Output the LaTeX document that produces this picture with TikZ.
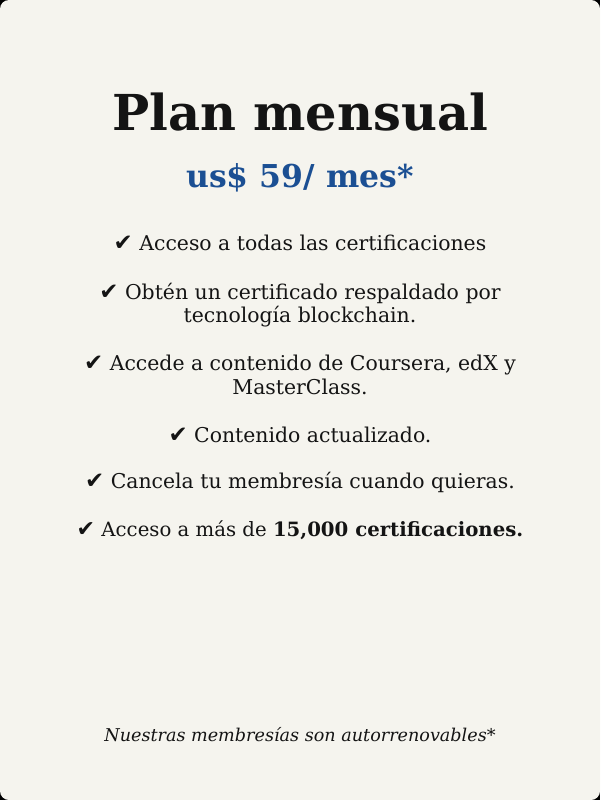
\documentclass[tikz,border=0pt]{standalone}
\usepackage{fontspec}
\setmainfont{DejaVu Serif}
\newfontfamily\chk{DejaVu Sans}
\definecolor{bg}{HTML}{F5F4EE}
\definecolor{ink}{HTML}{141414}
\definecolor{price}{HTML}{1B4F93}
\newcommand{\ck}{{\chk\scalebox{1.12}{\char"2714}}\ }
\begin{document}
\begin{tikzpicture}[x=1pt,y=-1pt,
  feat/.style={text=ink,align=center,font=\fontsize{20.4}{23.5}\selectfont,inner sep=0pt}]
\fill[black] (0,0) rectangle (600,800);
\fill[bg,rounded corners=9pt] (0,0) rectangle (600,800);
\useasboundingbox (0,0) rectangle (600,800);
\node[text=ink,font=\fontsize{49.5}{60}\selectfont\bfseries,inner sep=0pt] (title) at (300,112) {Plan mensual};
\node[text=price,font=\fontsize{31.5}{36}\selectfont\bfseries,inner sep=0pt] (price) at (300,178) {us\$ 59/ mes*};
\node[feat] (f1) at (300,243) {\ck Acceso a todas las certificaciones};
\node[feat] (f2) at (300,305) {\ck Obtén un certificado respaldado por\\tecnología blockchain.};
\node[feat] (f3) at (300,375) {\ck Accede a contenido de Coursera, edX y\\MasterClass.};
\node[feat] (f4) at (300,435) {\ck Contenido actualizado.};
\node[feat] (f5) at (300,482) {\ck Cancela tu membresía cuando quieras.};
\node[feat,font=\fontsize{19.7}{23.5}\selectfont] (f6) at (300,530) {\ck Acceso a más de \textbf{15,000 certificaciones.}};
\node[text=ink,font=\fontsize{17.6}{21}\selectfont\itshape,inner sep=0pt] (foot) at (300,735) {Nuestras membresías son autorrenovables*};
\end{tikzpicture}
\end{document}
